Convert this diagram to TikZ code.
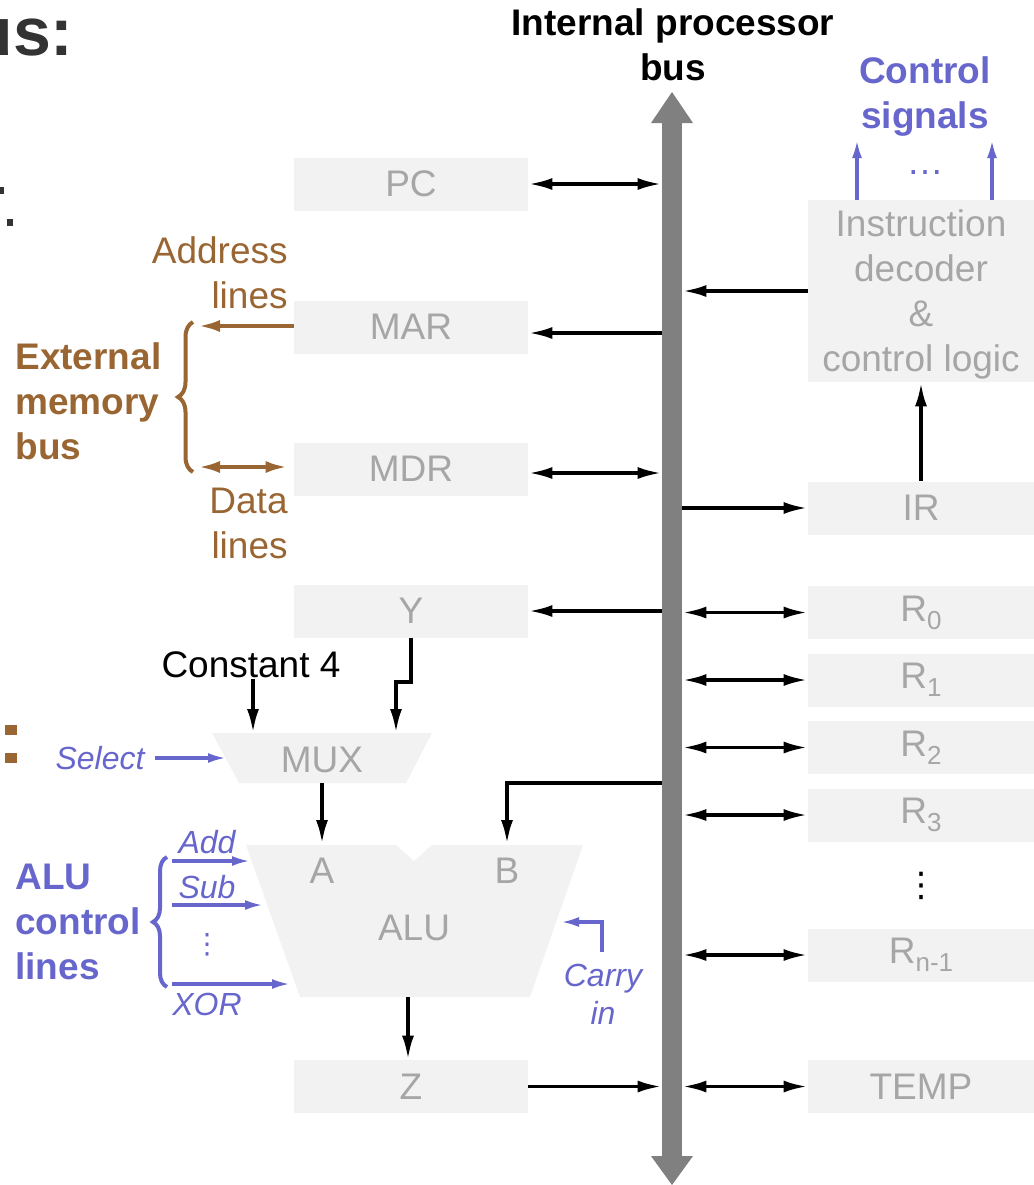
\documentclass[tikz,border=0pt]{standalone}
\usepackage{fontspec}
\setmainfont{Liberation Sans}
\newfontfamily\dejavu{DejaVu Sans}
\usetikzlibrary{arrows.meta,positioning,decorations.pathreplacing}
\definecolor{boxgray}{RGB}{242,242,242}
\definecolor{labelgray}{RGB}{166,166,166}
\definecolor{busgray}{RGB}{128,128,128}
\definecolor{membrown}{RGB}{153,102,51}
\definecolor{ctrlblue}{RGB}{102,102,204}
\definecolor{titlegray}{RGB}{51,51,51}

\newcommand{\regname}[1]{R\raisebox{-4pt}{\fontsize{13}{13}\selectfont #1}}

\begin{document}
\begin{tikzpicture}[x=0.5pt,y=-0.5pt,
    reg/.style={fill=boxgray,text=labelgray,inner sep=0pt,minimum width=117pt,minimum height=26.5pt,font=\fontsize{18.5}{22.5}\selectfont},
    rreg/.style={reg,minimum width=113pt},
    txt/.style={inner sep=0pt,font=\fontsize{18.5}{22.5}\selectfont},
    boldtxt/.style={inner sep=0pt,font=\fontsize{18.5}{22.5}\selectfont\bfseries},
    ital/.style={inner sep=0pt,text=ctrlblue,font=\fontsize{16}{19}\selectfont\itshape},
    wire/.style={line width=1.8pt,-{Latex[length=12pt,width=6pt]}},
    twoway/.style={line width=1.8pt,{Latex[length=12pt,width=6pt]}-{Latex[length=12pt,width=6pt]}},
    memwire/.style={membrown,line width=2pt,-{Latex[length=11pt,width=6pt]}},
    ctrlwire/.style={ctrlblue,line width=1.6pt,-{Latex[length=9pt,width=5pt]}}
]
    \useasboundingbox (0,0) rectangle (1034,1185);

    % leftovers of the slide
    \node[anchor=base east,inner sep=0pt,text=titlegray,font=\fontsize{34}{34}\selectfont\bfseries] (heading) at (74,55) {us:};
    \fill[titlegray] (0,187) rectangle (4,194);
    \fill[titlegray] (7,219) rectangle (13,226);
    \fill[membrown] (5,725) rectangle (17,735);
    \fill[membrown] (5,753) rectangle (17,763);

    % internal processor bus
    \node[fill=busgray,inner sep=0pt,minimum width=10pt,minimum height=517.5pt] (bus) at (672,639.5) {};
    \fill[busgray] (651,123) -- (672,92) -- (693,123) -- cycle;
    \fill[busgray] (651,1156) -- (672,1185) -- (693,1156) -- cycle;
    \node[boldtxt,align=center] (busname) at (673,45) {Internal processor\\bus};

    % left registers
    \node[reg] (pc) at (411,184) {PC};
    \node[reg] (mar) at (411,327) {MAR};
    \node[reg] (mdr) at (411,469) {MDR};
    \node[reg] (yreg) at (411,611) {Y};
    \node[reg] (zreg) at (411,1086.5) {Z};
    \coordinate (marrow) at (0,333);
    \coordinate (mdrrow) at (0,473);

    \draw[twoway] (pc.east) -- (pc.east -| bus.west);
    \draw[wire] (bus.west |- marrow) -- (mar.east |- marrow);
    \draw[twoway] (mdr.east |- mdrrow) -- (bus.west |- mdrrow);
    \draw[wire] (yreg.east -| bus.west) -- (yreg.east);
    \draw[wire] (zreg.east) -- (zreg.east -| bus.west);

    % external memory bus
    \coordinate (addrend) at (198,326);
    \coordinate (dataend) at (198,467);
    \draw[memwire] (mar.west |- addrend) -- (addrend);
    \draw[memwire,{Latex[length=11pt,width=6pt]}-{Latex[length=11pt,width=6pt]},shorten >=3pt] (dataend) -- (mdr.west |- dataend);
    \draw[membrown,line width=2pt,decorate,decoration={brace,amplitude=7.5pt}] (193,472) -- (193,322);
    \node[txt,text=membrown,align=right,anchor=east] (addrlab) at (288,273) {Address\\lines};
    \node[txt,text=membrown,align=right,anchor=east] (datalab) at (288,523) {Data\\lines};
    \node[boldtxt,text=membrown,align=left,anchor=west] (extbus) at (15,401) {External\\memory\\bus};

    % right side: decoder, IR, registers
    \node[rreg,minimum height=91pt,align=center,text depth=0pt] (decoder) at (921,291) {Instruction\\decoder\\\&\\control logic};
    \node[rreg] (ir) at (921,508) {IR};
    \draw[wire] (decoder.west) -- (decoder.west -| bus.east);
    \draw[wire] (ir.west -| bus.east) -- (ir.west);
    \draw[wire] (ir.north) -- (decoder.south);

    \foreach \name/\idx/\yy in {r0/0/612.5, r1/1/680, r2/2/747.5, r3/3/815, rn/n-1/955} {
        \node[rreg] (\name) at (921,\yy) {\regname{\idx}};
        \draw[twoway] (\name.west -| bus.east) -- (\name.west);
    }
    \node[inner sep=0pt,font=\dejavu\fontsize{17}{17}\selectfont] (regdots) at (921,886) {⋮};
    \node[rreg] (temp) at (921,1086.5) {TEMP};
    \draw[twoway] (temp.west -| bus.east) -- (temp.west);

    % control signals
    \node[boldtxt,text=ctrlblue,align=center] (ctrlsig) at (925,97) {Control\\signals};
    \coordinate (sig1) at (857,140);
    \coordinate (sig2) at (992,140);
    \draw[ctrlwire] (decoder.north -| sig1) -- (sig1);
    \draw[ctrlwire] (decoder.north -| sig2) -- (sig2);
    \node[txt,text=ctrlblue] (sigdots) at (925,173) {\ldots};

    % MUX
    \fill[boxgray] (212,733) -- (432,733) -- (406,783) -- (239,783) -- cycle;
    \node[txt,text=labelgray] (mux) at (322,760) {MUX};
    \coordinate (muxina) at (253,733);
    \coordinate (muxinb) at (396,733);
    \coordinate (muxsel) at (226,758);
    \coordinate (muxout) at (322,783);
    \node[txt] (const) at (251,665) {Constant 4};
    \draw[wire] (const.south -| muxina) -- (muxina);
    \draw[wire] (yreg.south) -- ++(0,44) -| (muxinb);
    \node[ital] (select) at (100,758) {Select};
    \draw[ctrlwire,shorten <=5pt] (select.east) -- (muxsel);

    % ALU
    \fill[boxgray] (246,845) -- (396,845) -- (414,861) -- (432,845) -- (583,845) -- (530,997) -- (300,997) -- cycle;
    \node[txt,text=labelgray] (alua) at (322,871) {A};
    \node[txt,text=labelgray] (alub) at (507,871) {B};
    \node[txt,text=labelgray] (alu) at (414,928) {ALU};
    \coordinate (aluina) at (322,844);
    \coordinate (aluinb) at (507,844);
    \coordinate (aluout) at (408,997);
    \coordinate (btap) at (bus.west |- 0,783);
    \draw[wire] (muxout) -- (aluina);
    \draw[wire] (btap) -| (aluinb);
    \draw[wire] (aluout) -- (zreg.north -| aluout);

    % ALU control lines
    \node[boldtxt,text=ctrlblue,align=left,anchor=west] (alulines) at (15,922) {ALU\\control\\lines};
    \draw[ctrlblue,line width=2pt,decorate,decoration={brace,amplitude=7pt}] (167,987) -- (167,857);
    \foreach \op/\yy/\xe in {add/861/250, sub/905/263, xor/984/290} {
        \coordinate (\op-s) at (172,\yy);
        \coordinate (\op-e) at (\xe,\yy);
        \draw[ctrlwire] (\op-s) -- (\op-e);
    }
    \node[ital] (addlab) at (207,842) {Add};
    \node[ital] (sublab) at (207,887) {Sub};
    \node[inner sep=0pt,text=ctrlblue,font=\dejavu\fontsize{14}{14}\selectfont] (opdots) at (207,945) {⋮};
    \node[ital] (xorlab) at (207,1004) {XOR};

    % carry in
    \node[ital,align=center] (carry) at (603,994) {Carry\\in};
    \coordinate (carrysrc) at (602,952);
    \coordinate (carryend) at (561,922);
    \draw[ctrlwire] (carrysrc) |- (carryend);
\end{tikzpicture}
\end{document}
